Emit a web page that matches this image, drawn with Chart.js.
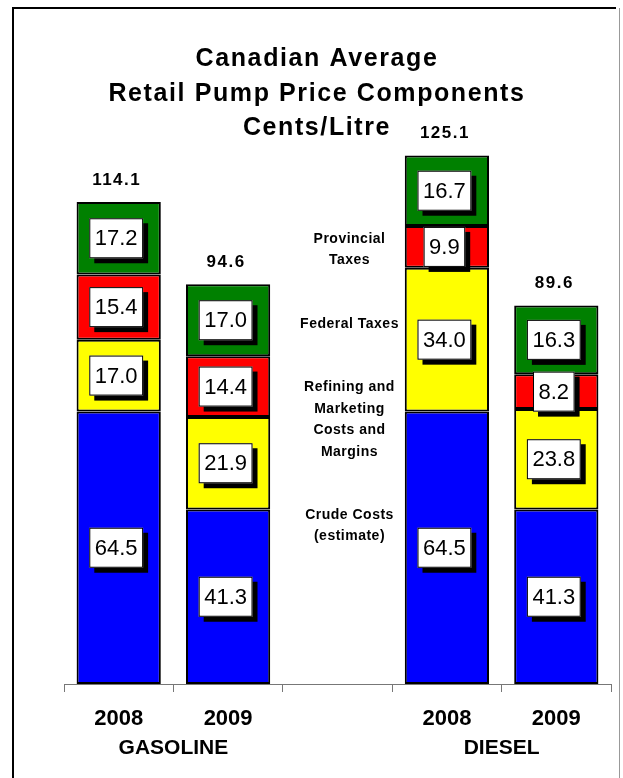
<!DOCTYPE html>
<html>
<head>
<meta charset="utf-8">
<script src="https://cdn.jsdelivr.net/npm/chart.js@4"></script>
<style>
  html, body { margin: 0; padding: 0; background: #fff; }
  #wrap { width: 623px; height: 778px; position: relative; }
</style>
</head>
<body>
<div id="wrap"><canvas id="priceChart"></canvas></div>
<script>
// data (cents / litre)
const categories = ['2008', '2009', '', '2008', '2009'];
const groupNames = ['GASOLINE', 'DIESEL'];
const crudeCosts = [64.5, 41.3, null, 64.5, 41.3];
const refiningCosts = [17.0, 21.9, null, 34.0, 23.8];
const federalTaxes = [15.4, 14.4, null, 9.9, 8.2];
const provincialTaxes = [17.2, 17.0, null, 16.7, 16.3];
const totals = [114.1, 94.6, null, 125.1, 89.6];
const titleLines = ['Canadian Average', 'Retail Pump Price Components', 'Cents/Litre'];
const sideLabels = [['Provincial', 'Taxes'], ['Federal Taxes'], ['Refining and', 'Marketing', 'Costs and', 'Margins'], ['Crude Costs', '(estimate)']];

const FONT = '"Liberation Sans", Arial, sans-serif';

// frame, title, value boxes, totals and the side captions
const decorations = {
  id: 'decorations',
  beforeDraw(chart) {
    const ctx = chart.ctx;
    ctx.save();
    ctx.strokeStyle = '#000';
    ctx.lineWidth = 2;
    ctx.beginPath();
    ctx.moveTo(13, 778);
    ctx.lineTo(13, 8);
    ctx.lineTo(616, 8);
    ctx.stroke();
    ctx.strokeStyle = '#999';
    ctx.lineWidth = 1;
    ctx.beginPath();
    ctx.moveTo(619.5, 8);
    ctx.lineTo(619.5, 778);
    ctx.stroke();

    ctx.fillStyle = '#000';
    ctx.font = 'bold 25px ' + FONT;
    ctx.letterSpacing = '1.6px';
    ctx.textAlign = 'center';
    ctx.textBaseline = 'alphabetic';
    const baselines = [66, 101, 135];
    titleLines.forEach((t, i) => ctx.fillText(t, 317, baselines[i]));
    ctx.restore();
  },
  afterDatasetsDraw(chart) {
    const ctx = chart.ctx;
    const x = chart.scales.x;
    const y = chart.scales.y;
    ctx.save();

    // white value boxes with a drop shadow
    ctx.font = '22px ' + FONT;
    ctx.textAlign = 'center';
    ctx.textBaseline = 'middle';
    chart.data.datasets.forEach((ds, di) => {
      const meta = chart.getDatasetMeta(di);
      meta.data.forEach((bar, i) => {
        const v = ds.data[i];
        if (v == null) return;
        const label = v.toFixed(1);
        const w = ctx.measureText(label).width + 11;
        const h = 40;
        const cx = bar.x - 2.5;
        const cy = (bar.y + bar.base) / 2;
        ctx.fillStyle = '#000';
        ctx.fillRect(cx - w / 2 + 5, cy - h / 2 + 5, w, h);
        ctx.fillStyle = '#fff';
        ctx.fillRect(cx - w / 2, cy - h / 2, w, h);
        ctx.strokeStyle = '#000';
        ctx.lineWidth = 1;
        ctx.strokeRect(cx - w / 2 + 0.5, cy - h / 2 + 0.5, w - 1, h - 1);
        ctx.fillStyle = '#000';
        ctx.fillText(label, cx, cy + 1);
      });
    });

    // totals above the bars
    ctx.font = 'bold 17px ' + FONT;
    ctx.letterSpacing = '1.5px';
    ctx.textBaseline = 'alphabetic';
    const top = chart.getDatasetMeta(chart.data.datasets.length - 1);
    totals.forEach((t, i) => {
      if (t == null) return;
      ctx.fillText(t.toFixed(1), top.data[i].x - 2, y.getPixelForValue(t) - 17);
    });

    // captions in the empty middle slot
    ctx.font = 'bold 14px ' + FONT;
    ctx.letterSpacing = '0.5px';
    ctx.textBaseline = 'middle';
    const capX = x.getPixelForValue(2) + 12;
    const capY = [102.8, 85.2, 62.6, 37.5];
    sideLabels.forEach((lines, k) => {
      const mid = y.getPixelForValue(capY[k]);
      lines.forEach((ln, j) => {
        ctx.fillText(ln, capX, mid + (j - (lines.length - 1) / 2) * 21.5);
      });
    });

    // group names under the year labels
    ctx.font = 'bold 21px ' + FONT;
    ctx.letterSpacing = '0px';
    ctx.textBaseline = 'alphabetic';
    const gx = [(x.getPixelForValue(0) + x.getPixelForValue(1)) / 2,
                (x.getPixelForValue(3) + x.getPixelForValue(4)) / 2];
    groupNames.forEach((g, i) => ctx.fillText(g, gx[i], 754));
    ctx.restore();
  }
};

const ctx = document.getElementById('priceChart').getContext('2d');
const seriesStyle = {
  borderColor: '#000',
  borderWidth: 2,
  borderSkipped: false,
  categoryPercentage: 1,
  barPercentage: 0.77
};

new Chart(ctx, {
  type: 'bar',
  data: {
    labels: categories,
    datasets: [
      { label: 'Crude Costs', data: crudeCosts, backgroundColor: '#0000FF', ...seriesStyle },
      { label: 'Refining and Marketing Costs and Margins', data: refiningCosts, backgroundColor: '#FFFF00', ...seriesStyle },
      { label: 'Federal Taxes', data: federalTaxes, backgroundColor: '#FF0000', ...seriesStyle },
      { label: 'Provincial Taxes', data: provincialTaxes, backgroundColor: '#008000', ...seriesStyle }
    ]
  },
  options: {
    responsive: true,
    maintainAspectRatio: false,
    animation: false,
    layout: { padding: { left: 64, right: 12, top: 92.5, bottom: 0 } },
    plugins: {
      legend: { display: false },
      tooltip: { enabled: false }
    },
    scales: {
      x: {
        stacked: true,
        afterFit(scale) { scale.height = 94; },
        grid: { display: true, drawOnChartArea: false, drawTicks: true, tickLength: 8, color: '#777', offset: true },
        border: { display: true, color: '#777', width: 1 },
        ticks: { color: '#000', padding: 14, font: { family: FONT, size: 22, weight: 'bold' } }
      },
      y: {
        stacked: true,
        display: false,
        min: 0,
        max: 140
      }
    }
  },
  plugins: [decorations]
});
</script>
</body>
</html>
